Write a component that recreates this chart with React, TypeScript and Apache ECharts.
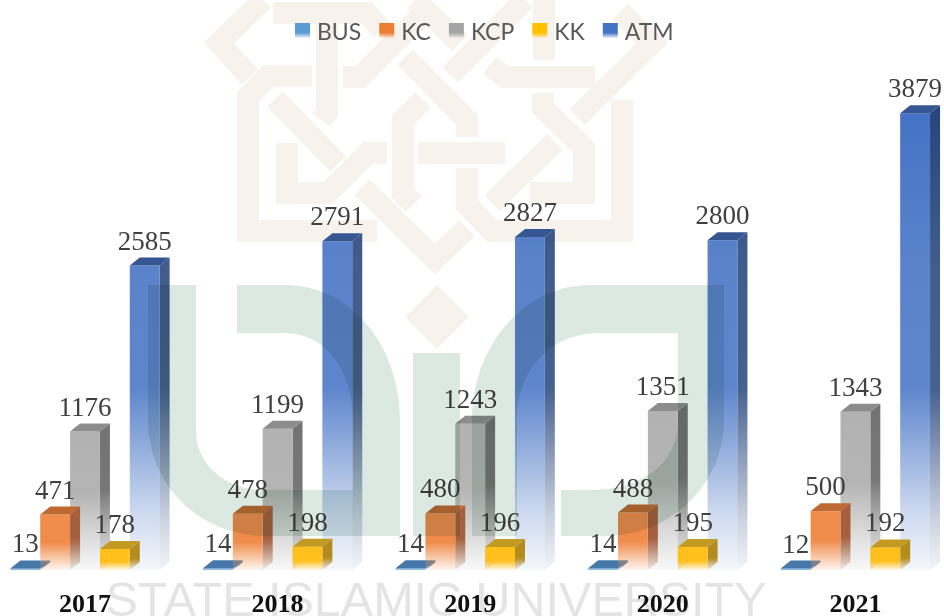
import React, { useEffect, useRef } from "react";
import * as echarts from "echarts";

const years = ["2017", "2018", "2019", "2020", "2021"];
const busValues = [13, 14, 14, 14, 12];
const kcValues = [471, 478, 480, 488, 500];
const kcpValues = [1176, 1199, 1243, 1351, 1343];
const kkValues = [178, 198, 196, 195, 192];
const atmValues = [2585, 2791, 2827, 2800, 3879];

const fade = (stops: [number, number][], rgb: number[]) => ({
  type: "linear", x: 0, y: 0, x2: 0, y2: 1,
  colorStops: stops.map(([offset, a]) => ({ offset, color: `rgba(${rgb.join(",")},${a})` })),
});

const soft: [number, number][] = [[0, 1], [0.5, 1], [1, 0.08]];
const atmGlobal = (rgb: number[]) => ({
  type: "linear", x: 0, y: 113, x2: 0, y2: 572, global: true,
  colorStops: [
    [0, 1], [0.33, 0.88], [0.6, 0.86], [0.72, 0.6], [0.88, 0.25], [1, 0.05],
  ].map(([offset, a]) => ({ offset, color: `rgba(${rgb.join(",")},${a})` })),
});

const seriesDefs = [
  { name: "BUS", data: busValues, z: 4, front: [91, 155, 213], side: [60, 105, 150], top: [70, 120, 170], legend: [91, 155, 213], grad: soft },
  { name: "KC", data: kcValues, z: 4, front: [240, 140, 75], side: [165, 95, 60], top: [190, 105, 50], legend: [237, 125, 49], grad: soft },
  { name: "KCP", data: kcpValues, z: 3, front: [178, 178, 178], side: [115, 115, 115], top: [140, 140, 140], legend: [165, 165, 165], grad: [[0, 1], [0.45, 0.97], [1, 0.08]] as [number, number][] },
  { name: "KK", data: kkValues, z: 5, front: [255, 192, 30], side: [180, 140, 30], top: [195, 155, 35], legend: [255, 192, 0], grad: [[0, 1], [0.6, 1], [1, 0.1]] as [number, number][] },
  { name: "ATM", data: atmValues, z: 3, front: [68, 114, 196], side: [40, 70, 125], top: [55, 85, 145], legend: [68, 114, 196], grad: null },
];

const BAR_RATIO = 0.155;
const DEPTH_X = 10;
const DEPTH_Y = 8;
const SHIFT = 12;

const makeSeries = (def: any, idx: number) => ({
  type: "custom",
  name: def.name,
  z: def.z,
  itemStyle: { color: fade([[0, 1], [0.65, 1], [1, 0.1]], def.legend) },
  encode: { x: 0, y: 1 },
  data: def.data.map((v: number, i: number) => [i, v]),
  renderItem: (_p: any, api: any) => {
    const i = api.value(0);
    const v = api.value(1);
    const top = api.coord([i, v]);
    const base = api.coord([i, 0]);
    const w = api.size([1, 0])[0] * BAR_RATIO;
    const x0 = top[0] + (idx - 2) * w - w / 2;
    const x1 = x0 + w;
    const yT = top[1];
    const yB = base[1];
    const frontFill = def.grad ? fade(def.grad, def.front) : atmGlobal(def.front);
    const sideFill = def.grad ? fade(def.grad, def.side) : atmGlobal(def.side);
    return {
      type: "group",
      children: [
        {
          type: "polygon",
          shape: { points: [[x1, yT], [x1 + DEPTH_X, yT - DEPTH_Y], [x1 + DEPTH_X, yB - DEPTH_Y], [x1, yB]] },
          style: { fill: sideFill },
        },
        {
          type: "polygon",
          shape: { points: [[x0, yT], [x1, yT], [x1, yB], [x0, yB]] },
          style: { fill: frontFill },
        },
        {
          type: "polygon",
          shape: { points: [[x0, yT], [x0 + DEPTH_X, yT - DEPTH_Y], [x1 + DEPTH_X, yT - DEPTH_Y], [x1, yT]] },
          style: { fill: `rgb(${def.top.join(",")})` },
        },
        {
          type: "text",
          style: {
            text: String(v),
            x: (x0 + x1) / 2,
            y: yT - 25,
            align: "center",
            verticalAlign: "middle",
            fill: "#404040",
            fontSize: 27,
            fontFamily: '"Liberation Serif"',
          },
        },
      ],
    };
  },
});

const leftU =
  "M148 285H196V430C196 465 225 490 265 490H353V420C353 370 325 333 285 333H237V285H285C350 285 400 345 400 420V536H265C200 536 148 485 148 420Z";
const rightC =
  "M472 536V420C472 345 525 285 590 285H724V420C724 485 670 536 605 536H561V490H590C640 490 678 465 678 420V333H600C550 333 517 370 517 420V536Z";

// Ornament centre lines of the background watermark, in page pixels.
const knotLines: number[][][] = [
  [[263, 0], [219, 43], [250, 77]],
  [[312, 76], [268, 76], [248, 97], [248, 231], [377, 231]],
  [[273, 13], [367, 13], [382, 30]],
  [[327, 23], [327, 112], [321, 120]],
  [[275, 99], [338, 164]],
  [[387, 153], [368, 153], [328, 193], [287, 193], [287, 143]],
  [[362, 187], [435, 259], [467, 228]],
  [[423, 100], [403, 120], [403, 193], [414, 204]],
  [[405, 57], [467, 120], [467, 137]],
  [[418, 153], [505, 153]],
  [[467, 168], [467, 205], [492, 231], [622, 231], [622, 100]],
  [[555, 142], [492, 203]],
  [[530, 193], [584, 193], [584, 148], [543, 108], [543, 93]],
  [[577, 117], [652, 43], [620, 12]],
  [[490, 65], [505, 77], [595, 77]],
  [[544, 0], [544, 60]],
  [[343, 77], [360, 77], [430, 7]],
  [[450, 75], [525, 0]],
  [[415, 0], [460, 43]],
];

const App = () => {
  const ref = useRef<HTMLDivElement>(null);
  useEffect(() => {
    if (!ref.current) return;
    echarts.graphic.registerShape("wmLeft", echarts.graphic.extendPath(leftU, {}) as any);
    echarts.graphic.registerShape("wmRight", echarts.graphic.extendPath(rightC, {}) as any);
    const chart = echarts.init(ref.current, undefined, { renderer: "svg" });
    const cream = "#f7f3ec";
    const green = "#dce8e2";
    chart.setOption({
      animation: false,
      backgroundColor: "#ffffff",
      grid: { left: 0.7, width: 963, top: 99, bottom: 44, containLabel: false },
      legend: {
        left: 290 + SHIFT,
        top: 14,
        itemWidth: 15,
        itemHeight: 15,
        itemGap: 18,
        icon: "rect",
        data: seriesDefs.map((d) => d.name),
        textStyle: { color: "#595959", fontSize: 23, fontFamily: "Lato", padding: [0, 0, 0, 2] },
      },
      xAxis: {
        type: "category",
        data: years,
        z: 6,
        axisLine: { show: false },
        axisTick: { show: false },
        axisLabel: {
          margin: 20,
          color: "#111111",
          fontSize: 26,
          fontWeight: "bold",
          fontFamily: '"Liberation Serif"',
        },
      },
      yAxis: { type: "value", min: 0, max: 4000, show: false, splitLine: { show: false } },
      graphic: [
        {
          type: "group",
          x: SHIFT,
          y: 0,
          children: [
            ...knotLines.map((points) => ({
              type: "polyline",
              z: 0,
              shape: { points },
              style: { stroke: cream, lineWidth: 22, fill: "none", lineJoin: "miter", lineCap: "butt" },
            })),
            {
              type: "polygon",
              z: 0,
              shape: { points: [[437, 285], [469, 317], [437, 349], [405, 317]] },
              style: { fill: cream },
            },
            {
              type: "text",
              z: 0,
              style: {
                text: "STATE ISLAMIC UNIVERSITY",
                x: 436,
                y: 599,
                align: "center",
                verticalAlign: "middle",
                fill: "#e4e4e4",
                fontSize: 48.5,
                fontFamily: '"Liberation Sans"',
              },
            },
            { type: "wmLeft", z: 20, x: 0, y: 0, style: { fill: green } },
            { type: "wmRight", z: 20, x: 0, y: 0, style: { fill: green } },
            { type: "rect", z: 20, shape: { x: 413, y: 353, width: 47, height: 183 }, style: { fill: green } },
          ],
        },
      ],
      series: seriesDefs.map(makeSeries),
    });
    // The reference's green watermark darkens what lies under it, as in a multiply blend.
    chart
      .getDom()
      .querySelectorAll(`[fill="${green}"]`)
      .forEach((node: any) => {
        node.style.mixBlendMode = "multiply";
      });
    return () => chart.dispose();
  }, []);
  return (
    <div style={{ position: "absolute", left: 0, top: 0, width: 944, height: 616, overflow: "hidden" }}>
      <div
        ref={ref}
        style={{ position: "absolute", left: -SHIFT, top: 0, width: 968, height: 616 }}
      />
    </div>
  );
};

export default App;
